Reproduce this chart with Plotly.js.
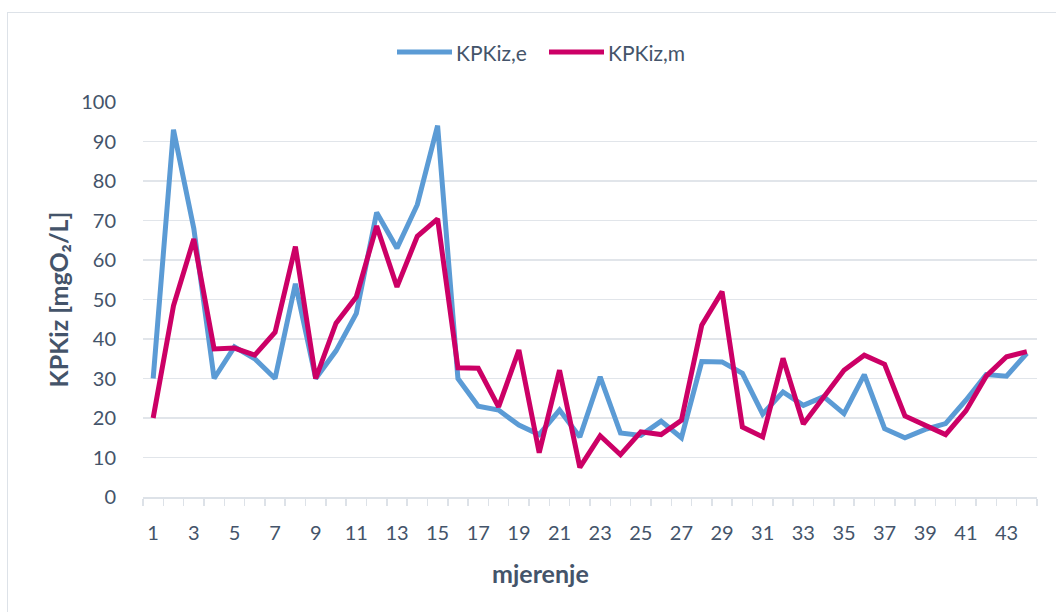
<!DOCTYPE html>
<html>
<head>
<meta charset="utf-8">
<script src="https://cdn.plot.ly/plotly-3.0.1.min.js"></script>
<style>
html,body{margin:0;padding:0;background:#fff;}
#frame{position:absolute;left:7px;top:12px;width:1060px;height:620px;border:1px solid #dde2e8;box-sizing:border-box;}
#chart{position:absolute;left:0;top:0;width:1056px;height:612px;}
</style>
</head>
<body>
<div id="frame"></div>
<div id="chart"></div>
<script>
const mjerenje = [1,2,3,4,5,6,7,8,9,10,11,12,13,14,15,16,17,18,19,20,21,22,23,24,25,26,27,28,29,30,31,32,33,34,35,36,37,38,39,40,41,42,43,44];
const kpkizE = [30,93,68,30,38,35,30,54,30,37,46.5,72,63,74,94,30,23,22,18.2,15.8,22,15.2,30.4,16.2,15.6,19.2,15,34.3,34.2,31.3,21,26.6,23.2,25.4,21.1,31,17.3,15,17.1,18.6,24.5,31,30.6,36.4];
const kpkizM = [20,48.4,65.3,37.5,37.7,35.9,41.7,63.4,30,44,50.7,68.6,53.2,66,70.4,32.7,32.6,22.8,37.2,11.2,32.1,7.5,15.5,10.7,16.5,15.8,19.4,43.5,52,17.7,15.2,35.1,18.5,25.4,32.1,35.9,33.6,20.5,18.2,15.8,21.8,30.6,35.5,36.8];
const yTicks = [0,10,20,30,40,50,60,70,80,90,100];
const xTickLabels = [1,3,5,7,9,11,13,15,17,19,21,23,25,27,29,31,33,35,37,39,41,43];
const seriesNames = ['KPKiz,e','KPKiz,m'];
const seriesColors = ['#5b9bd5','#cc0066'];
const FONT = 'Lato, "Open Sans", sans-serif';
const TXT = '#44546a';

const traces = [
  {x: mjerenje, y: kpkizE, name: seriesNames[0], type: 'scatter', mode: 'lines',
   line: {color: seriesColors[0], width: 5, shape: 'linear'}},
  {x: mjerenje, y: kpkizM, name: seriesNames[1], type: 'scatter', mode: 'lines',
   line: {color: seriesColors[1], width: 5, shape: 'linear'}}
];

// manual legend (container pixel coords -> paper fractions)
const W = 1056, H = 612, ML = 143, MR = 19, MT = 102, MB = 115;
const pw = W - ML - MR, ph = H - MT - MB;
const px = v => (v - ML) / pw;
const py = v => (H - MB - v) / ph;
const legendY = 52;
const legendItems = [{x0: 397, x1: 452}, {x0: 549, x1: 604}];
const shapes = legendItems.map((it, i) => ({
  type: 'line', xref: 'paper', yref: 'paper', x0: px(it.x0), x1: px(it.x1), y0: py(legendY), y1: py(legendY),
  line: {color: seriesColors[i], width: 5}
}));
const legendAnn = legendItems.map((it, i) => ({
  text: seriesNames[i], xref: 'paper', yref: 'paper', x: px(it.x1 + 2), y: py(legendY), xanchor: 'left', yanchor: 'middle',
  showarrow: false, font: {family: FONT, size: 21, color: TXT}
}));

const layout = {
  width: W, height: H,
  margin: {l: ML, r: MR, t: MT, b: MB},
  paper_bgcolor: 'rgba(0,0,0,0)', plot_bgcolor: '#fff',
  font: {family: FONT, color: TXT, size: 20},
  showlegend: false,
  xaxis: {
    range: [0.5, 44.5], tickmode: 'array', tickvals: xTickLabels, ticktext: xTickLabels.map(String),
    ticks: 'outside', ticklen: 17, tickcolor: 'rgba(0,0,0,0)',
    showgrid: false, zeroline: false, showline: true, linecolor: '#dde2e8', linewidth: 1.5,
    minor: {ticks: 'outside', tick0: 0.5, dtick: 1, ticklen: 7, tickcolor: '#dde2e8', tickwidth: 1.5, showgrid: false},
    tickfont: {family: FONT, size: 20, color: TXT}, fixedrange: true
  },
  yaxis: {
    range: [0, 100], tickmode: 'array', tickvals: yTicks,
    ticks: 'outside', ticklen: 22, tickcolor: 'rgba(0,0,0,0)',
    showgrid: true, gridcolor: '#e1e5ea', gridwidth: 1.5, zeroline: false, showline: false,
    tickfont: {family: FONT, size: 20, color: TXT},
    title: {text: 'KPKiz [mgO₂/L]', font: {family: FONT, size: 25, color: TXT, weight: 'bold'}, standoff: 5},
    automargin: false, fixedrange: true
  },
  shapes: shapes,
  annotations: legendAnn.concat([
    {text: '<b>mjerenje</b>', xref: 'paper', yref: 'paper', x: px(540), y: py(573), xanchor: 'center', yanchor: 'middle',
     showarrow: false, font: {family: FONT, size: 25, color: TXT}}
  ])
};

Plotly.newPlot('chart', traces, layout, {displayModeBar: false, staticPlot: true});
</script>
</body>
</html>
